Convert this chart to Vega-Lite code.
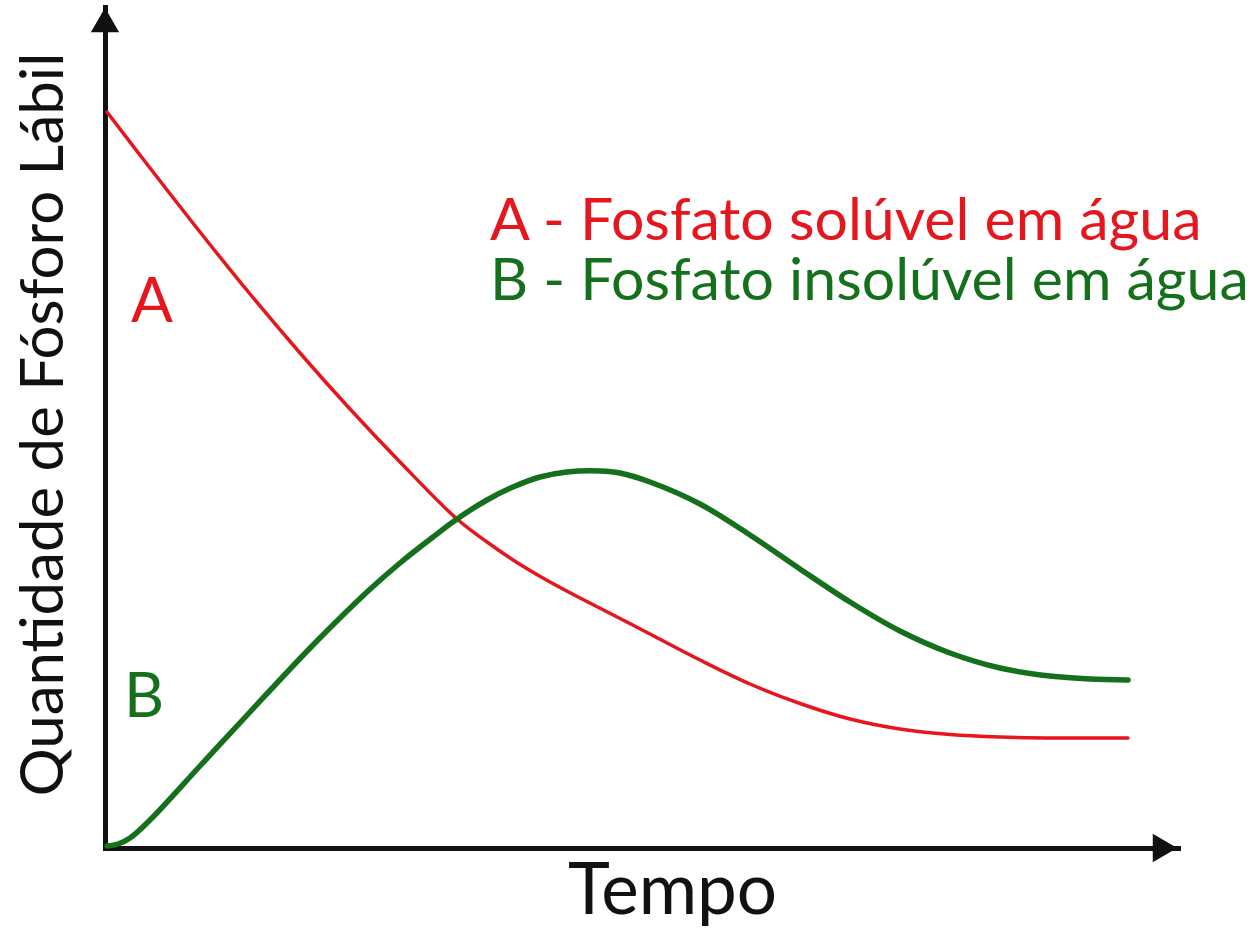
{
  "$schema": "https://vega.github.io/schema/vega-lite/v6.json",
  "width": 1073,
  "height": 841,
  "autosize": {"type": "none"},
  "padding": {"left": 105, "top": 7, "right": 81, "bottom": 82},
  "background": "#ffffff",
  "config": {"view": {"stroke": null}, "font": "Lato"},
  "datasets": {
    "curves": [
      {"t": 2, "q": 736, "s": "A"}, {"t": 45, "q": 680, "s": "A"}, {"t": 95, "q": 616, "s": "A"}, {"t": 145, "q": 554, "s": "A"},
      {"t": 195, "q": 495, "s": "A"}, {"t": 245, "q": 439, "s": "A"}, {"t": 295, "q": 386, "s": "A"}, {"t": 352, "q": 329, "s": "A"},
      {"t": 382, "q": 306, "s": "A"}, {"t": 412, "q": 285.5, "s": "A"}, {"t": 445, "q": 266, "s": "A"}, {"t": 478, "q": 248.5, "s": "A"},
      {"t": 515, "q": 229.5, "s": "A"}, {"t": 545, "q": 214, "s": "A"}, {"t": 595, "q": 188, "s": "A"}, {"t": 645, "q": 164, "s": "A"},
      {"t": 695, "q": 144.5, "s": "A"}, {"t": 745, "q": 129, "s": "A"}, {"t": 795, "q": 119, "s": "A"}, {"t": 845, "q": 113.5, "s": "A"},
      {"t": 895, "q": 111, "s": "A"}, {"t": 955, "q": 110, "s": "A"}, {"t": 1023, "q": 110, "s": "A"},
      {"t": 2, "q": 2, "s": "B"}, {"t": 13, "q": 4, "s": "B"}, {"t": 25, "q": 10, "s": "B"}, {"t": 45, "q": 28, "s": "B"},
      {"t": 95, "q": 82, "s": "B"}, {"t": 145, "q": 136, "s": "B"}, {"t": 208, "q": 203, "s": "B"}, {"t": 262, "q": 256, "s": "B"},
      {"t": 295, "q": 285, "s": "B"}, {"t": 328, "q": 311, "s": "B"}, {"t": 352, "q": 329, "s": "B"}, {"t": 382, "q": 348, "s": "B"},
      {"t": 408, "q": 361, "s": "B"}, {"t": 435, "q": 371, "s": "B"}, {"t": 462, "q": 376, "s": "B"}, {"t": 495, "q": 377, "s": "B"},
      {"t": 515, "q": 375, "s": "B"}, {"t": 545, "q": 366, "s": "B"}, {"t": 595, "q": 344, "s": "B"}, {"t": 645, "q": 313, "s": "B"},
      {"t": 695, "q": 279, "s": "B"}, {"t": 745, "q": 246, "s": "B"}, {"t": 795, "q": 217, "s": "B"}, {"t": 845, "q": 195, "s": "B"},
      {"t": 895, "q": 180, "s": "B"}, {"t": 945, "q": 172, "s": "B"}, {"t": 985, "q": 169, "s": "B"}, {"t": 1023, "q": 168, "s": "B"}
    ],
    "legend": [
      {"t": 385, "q": 608, "s": "A", "label": "A - Fosfato solúvel em água"},
      {"t": 385, "q": 548, "s": "B", "label": "B - Fosfato insolúvel em água"}
    ],
    "tags": [
      {"t": 47, "q": 526, "s": "A", "label": "A"},
      {"t": 39, "q": 131, "s": "B", "label": "B"}
    ],
    "arrows": [
      {"t": 0, "q": 828, "dir": "up"},
      {"t": 1060, "q": 0, "dir": "right"}
    ]
  },
  "layer": [
    {
      "data": {"name": "curves"},
      "mark": {"type": "line", "interpolate": "catmull-rom", "strokeCap": "round"},
      "encoding": {
        "x": {
          "field": "t", "type": "quantitative",
          "scale": {"domain": [0, 1073], "nice": false, "zero": false},
          "axis": {
            "domainColor": "#111111", "domainWidth": 5, "domainCap": "square",
            "ticks": false, "labels": false, "grid": false,
            "title": "Tempo", "titleFont": "Lato", "titleFontSize": 71, "titleFontWeight": "normal",
            "titleColor": "#111111", "titleX": 567, "titleY": 65, "titleAlign": "center", "titleBaseline": "alphabetic"
          }
        },
        "y": {
          "field": "q", "type": "quantitative",
          "scale": {"domain": [0, 841], "nice": false, "zero": false},
          "axis": {
            "domainColor": "#111111", "domainWidth": 5, "domainCap": "square",
            "ticks": false, "labels": false, "grid": false,
            "title": "Quantidade de Fósforo Lábil", "titleFont": "Lato", "titleFontSize": 60, "titleFontWeight": "normal",
            "titleColor": "#111111", "titleX": -43, "titleY": 417, "titleAngle": -90, "titleAlign": "center", "titleBaseline": "alphabetic"
          }
        },
        "color": {"field": "s", "type": "nominal", "scale": {"domain": ["A", "B"], "range": ["#e5161e", "#15701b"]}, "legend": null},
        "strokeWidth": {"field": "s", "type": "ordinal", "scale": {"domain": ["A", "B"], "range": [3.5, 5.5]}, "legend": null}
      }
    },
    {
      "data": {"name": "legend"},
      "mark": {"type": "text", "align": "left", "baseline": "alphabetic", "font": "Lato", "fontSize": 59},
      "encoding": {
        "x": {"field": "t", "type": "quantitative"},
        "y": {"field": "q", "type": "quantitative"},
        "text": {"field": "label"},
        "color": {"field": "s", "type": "nominal", "legend": null}
      }
    },
    {
      "data": {"name": "tags"},
      "mark": {"type": "text", "align": "center", "baseline": "alphabetic", "font": "Lato", "fontSize": 62},
      "encoding": {
        "x": {"field": "t", "type": "quantitative"},
        "y": {"field": "q", "type": "quantitative"},
        "text": {"field": "label"},
        "color": {"field": "s", "type": "nominal", "legend": null}
      }
    },
    {
      "data": {"name": "arrows"},
      "mark": {"type": "point", "filled": true, "opacity": 1, "color": "#111111", "size": 800},
      "encoding": {
        "x": {"field": "t", "type": "quantitative"},
        "y": {"field": "q", "type": "quantitative"},
        "shape": {"field": "dir", "type": "nominal", "scale": {"domain": ["up", "right"], "range": ["triangle-up", "triangle-right"]}, "legend": null}
      }
    }
  ]
}
